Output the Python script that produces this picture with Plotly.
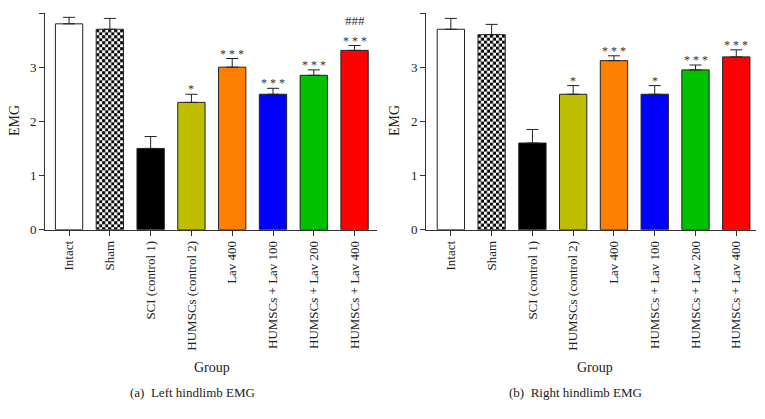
import base64
import plotly.graph_objects as go

groups = ["Intact", "Sham", "SCI (control 1)", "HUMSCs (control 2)", "Lav 400",
          "HUMSCs + Lav 100", "HUMSCs + Lav 200", "HUMSCs + Lav 400"]
left_mean = [3.8, 3.7, 1.5, 2.35, 3.0, 2.5, 2.85, 3.31]
left_err = [0.12, 0.2, 0.22, 0.15, 0.16, 0.11, 0.10, 0.09]
right_mean = [3.7, 3.6, 1.6, 2.5, 3.12, 2.5, 2.95, 3.19]
right_err = [0.2, 0.19, 0.25, 0.16, 0.09, 0.16, 0.09, 0.13]
left_sig = ["", "", "", "*", "* * *", "* * *", "* * *", "* * *"]
left_sig2 = ["", "", "", "", "", "", "", "###"]
right_sig = ["", "", "", "*", "* * *", "*", "* * *", "* * *"]
bar_colors = ["#FFFFFF", "rgba(0,0,0,0)", "#000000", "#BFBF00", "#FF8000",
              "#0000FF", "#00C000", "#FF0000"]
y_ticks = [0, 1, 2, 3, 4]

# page has an 8px body margin: the figure is drawn inside it
OFF = 8
W, H = 765 - 2 * OFF, 419 - 2 * OFF


def px(v):
    return v - OFF


def fx(v):
    return px(v) / W


def fy(v):
    return 1 - px(v) / H


FONT = "Liberation Serif, Times New Roman, serif"
BAR_W = 0.67
ydom = [fy(229.7), fy(13)]
panels = [
    dict(mean=left_mean, err=left_err, sig=left_sig, sig2=left_sig2,
         dom=[fx(45), fx(377)], rng=[-0.59, 7.55], xa="x", ya="y",
         ytitle_x=15, group_x=212, cap_x=192, caption="(a)  Left hindlimb EMG"),
    dict(mean=right_mean, err=right_err, sig=right_sig, sig2=None,
         dom=[fx(426), min(fx(757), 0.999)], rng=[-0.61, 7.49], xa="x2", ya="y2",
         ytitle_x=395, group_x=595, cap_x=575, caption="(b)  Right hindlimb EMG"),
]

checker_svg = ('<svg xmlns="http://www.w3.org/2000/svg" width="100%" height="100%">'
               '<defs><pattern id="c" width="6" height="6" patternUnits="userSpaceOnUse">'
               '<rect width="6" height="6" fill="white"/>'
               '<rect width="3" height="3" fill="black"/>'
               '<rect x="3" y="3" width="3" height="3" fill="black"/>'
               '</pattern></defs><rect width="100%" height="100%" fill="url(#c)"/></svg>')
checker_uri = "data:image/svg+xml;base64," + base64.b64encode(checker_svg.encode()).decode()

fig = go.Figure()
annotations = []
images = []
for p in panels:
    fig.add_trace(go.Bar(
        x=list(range(len(groups))), y=p["mean"], width=BAR_W,
        marker=dict(color=bar_colors, line=dict(color="#222222", width=1)),
        error_y=dict(type="data", array=p["err"], arrayminus=[0] * len(groups),
                     symmetric=False, color="#222222", thickness=1, width=6),
        xaxis=p["xa"], yaxis=p["ya"], showlegend=False,
    ))
    # checkerboard fill for the Sham bar
    images.append(dict(source=checker_uri, xref=p["xa"], yref=p["ya"],
                       x=1 - BAR_W / 2, y=p["mean"][1], sizex=BAR_W, sizey=p["mean"][1],
                       xanchor="left", yanchor="top", sizing="stretch", layer="below"))
    for i, s in enumerate(p["sig"]):
        if s:
            annotations.append(dict(x=i, y=p["mean"][i] + p["err"][i], xref=p["xa"], yref=p["ya"],
                                    text=s, showarrow=False, xanchor="center", yanchor="bottom",
                                    yshift=-4, font=dict(family=FONT, size=12, color="#333")))
    if p["sig2"]:
        for i, s in enumerate(p["sig2"]):
            if s:
                annotations.append(dict(x=i, y=p["mean"][i] + p["err"][i], xref=p["xa"], yref=p["ya"],
                                        text=s, showarrow=False, xanchor="center", yanchor="bottom",
                                        yshift=16, font=dict(family=FONT, size=13, color="#333")))
    annotations.append(dict(x=fx(p["ytitle_x"]), y=fy(121), xref="paper", yref="paper",
                            text="EMG", textangle=-90, showarrow=False,
                            xanchor="center", yanchor="middle",
                            font=dict(family=FONT, size=14, color="#222")))
    annotations.append(dict(x=fx(p["group_x"]), y=fy(367), xref="paper", yref="paper",
                            text="Group", showarrow=False, xanchor="center", yanchor="middle",
                            font=dict(family=FONT, size=14, color="#222")))
    annotations.append(dict(x=fx(p["cap_x"]), y=fy(392), xref="paper", yref="paper",
                            text=p["caption"], showarrow=False, xanchor="center", yanchor="middle",
                            font=dict(family=FONT, size=13, color="#222")))

axis_common = dict(showline=True, linecolor="#333333", linewidth=1, ticks="outside",
                   ticklen=5, tickcolor="#333333", showgrid=False, zeroline=False,
                   automargin=False, tickfont=dict(family=FONT, size=13, color="#222"))
fig.update_layout(
    width=W, height=H, margin=dict(l=0, r=0, t=0, b=0, autoexpand=False),
    paper_bgcolor="white", plot_bgcolor="white",
    xaxis=dict(domain=panels[0]["dom"], range=panels[0]["rng"], tickmode="array",
               tickvals=list(range(len(groups))), ticktext=groups, tickangle=-90,
               anchor="y", **axis_common),
    yaxis=dict(domain=ydom, range=[0, 4], tickvals=y_ticks, anchor="x", **axis_common),
    xaxis2=dict(domain=panels[1]["dom"], range=panels[1]["rng"], tickmode="array",
                tickvals=list(range(len(groups))), ticktext=groups, tickangle=-90,
                anchor="y2", **axis_common),
    yaxis2=dict(domain=ydom, range=[0, 4], tickvals=y_ticks, anchor="x2", **axis_common),
    annotations=annotations, images=images, bargap=0.3,
)
fig.write_html("out.html")
